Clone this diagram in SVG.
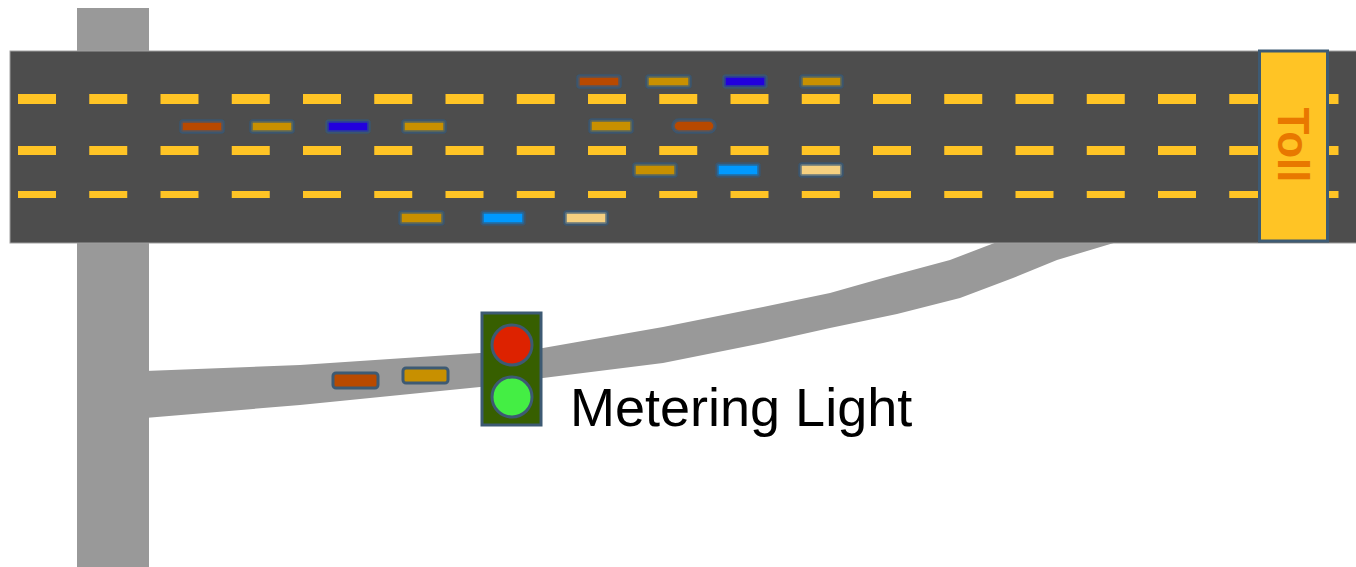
<svg xmlns="http://www.w3.org/2000/svg" width="1356" height="567" viewBox="0 0 1356 567">
  <defs>
    <!-- soft halo around the highway cars -->
    <filter id="halo" x="-20%" y="-60%" width="140%" height="220%">
      <feGaussianBlur stdDeviation="0.6"/>
    </filter>
  </defs>
  <style>
    .road { fill: #999999; }
    .lane { fill: none; stroke: #ffc425; stroke-dasharray: 38 33.25; }
    .car { stroke: #34587a; stroke-width: 3.5; stroke-opacity: 0.75; filter: url(#halo); }
    .ramp-car { stroke: #3d5a73; stroke-width: 3; }
    .red { fill: #b84a00; }
    .gold { fill: #c89000; }
    .blue { fill: #2200dd; }
    .sky { fill: #0099ff; }
    .tan { fill: #f5d080; }
    .lamp { stroke: #3d5a73; stroke-width: 3; }
    .label { font-family: "Liberation Sans", Arial, sans-serif; }
  </style>

  <!-- cross street -->
  <g id="cross-street">
    <rect class="road" x="77" y="8" width="72" height="559"/>
  </g>

  <!-- on-ramp from the cross street up to the highway -->
  <g id="on-ramp">
    <polygon class="road" points="145,371 300,365 480,353 543,348 663,327 763,307 830,293 883,278 950,260 997,242 1117,242 1057,260 1013,278 960,298 897,314 830,328 763,343 663,363 543,378 480,387 300,405 145,418"/>
  </g>

  <!-- highway with lane markings -->
  <g id="highway">
    <rect x="10" y="51" width="1350" height="192" fill="#4d4d4d" stroke="#a0a0a0" stroke-width="1"/>
    <line class="lane" x1="18" y1="99" x2="1339" y2="99" stroke-width="10"/>
    <line class="lane" x1="18" y1="150.5" x2="1339" y2="150.5" stroke-width="9"/>
    <line class="lane" x1="18" y1="194.5" x2="1339" y2="194.5" stroke-width="7"/>
  </g>

  <!-- traffic on the highway -->
  <g id="highway-traffic">
    <rect class="car red" x="578" y="76" width="42" height="11" rx="2"/>
    <rect class="car gold" x="647" y="76" width="43" height="11" rx="2"/>
    <rect class="car blue" x="724" y="76" width="42" height="11" rx="2"/>
    <rect class="car gold" x="801" y="76" width="41" height="11" rx="2"/>

    <rect class="car red" x="181" y="121" width="42" height="11" rx="2"/>
    <rect class="car gold" x="251" y="121" width="42" height="11" rx="2"/>
    <rect class="car blue" x="327" y="121" width="42" height="11" rx="2"/>
    <rect class="car gold" x="403" y="121" width="42" height="11" rx="2"/>
    <rect class="car gold" x="590" y="120" width="42" height="12" rx="2"/>
    <rect class="car red" x="673" y="120" width="42" height="12" rx="6"/>

    <rect class="car gold" x="634" y="164" width="42" height="12" rx="2"/>
    <rect class="car sky" x="717" y="164" width="42" height="12" rx="2"/>
    <rect class="car tan" x="800" y="164" width="42" height="12" rx="2"/>

    <rect class="car gold" x="400" y="212" width="43" height="12" rx="2"/>
    <rect class="car sky" x="482" y="212" width="42" height="12" rx="2"/>
    <rect class="car tan" x="565" y="212" width="42" height="12" rx="2"/>
  </g>

  <!-- cars waiting on the ramp -->
  <g id="ramp-traffic">
    <rect class="ramp-car red" x="333" y="373" width="45" height="15" rx="3"/>
    <rect class="ramp-car gold" x="403" y="368" width="45" height="15" rx="3"/>
  </g>

  <!-- toll plaza -->
  <g id="toll">
    <rect x="1259.5" y="51" width="68" height="190" fill="#ffc425" stroke="#3d5a73" stroke-width="3"/>
    <text class="label" x="0" y="0" transform="translate(1278 145) rotate(90)" text-anchor="middle" font-size="44" font-weight="bold" fill="#e87800">Toll</text>
  </g>

  <!-- ramp metering signal -->
  <g id="metering-light">
    <rect x="482" y="313" width="59" height="112" fill="#375f00" stroke="#3d5a73" stroke-width="3"/>
    <circle class="lamp" cx="512" cy="345" r="20" fill="#dd2200"/>
    <circle class="lamp" cx="512" cy="397" r="20" fill="#44ee44"/>
    <text class="label" x="570" y="426" font-size="54" fill="#000000">Metering Light</text>
  </g>
</svg>
